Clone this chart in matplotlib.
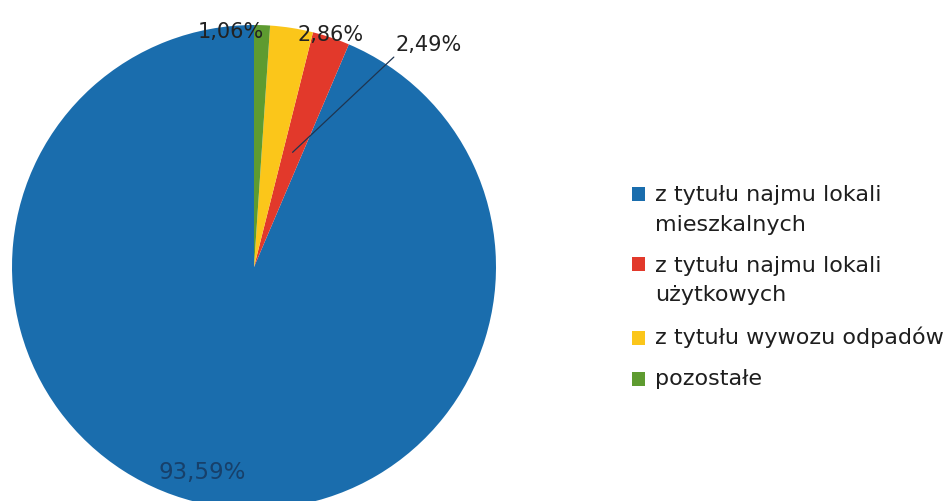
import numpy as np
import matplotlib
matplotlib.use("Agg")
import matplotlib.pyplot as plt

categories = ["z tytułu najmu lokali\nmieszkalnych",
              "z tytułu najmu lokali\nużytkowych",
              "z tytułu wywozu odpadów",
              "pozostałe"]
values = [93.59, 2.49, 2.86, 1.06]
pct_labels = ["93,59%", "2,49%", "2,86%", "1,06%"]
colors = ["#1a6dad", "#e2392b", "#fbc61a", "#5e9b30"]

W, H = 948, 502
fig = plt.figure(figsize=(W / 100, H / 100), dpi=100)
ax = fig.add_axes([0, 0, 1, 1])

wedges, _ = ax.pie(values, colors=colors, startangle=90, counterclock=True,
                   radius=1.0, wedgeprops=dict(linewidth=0))

# pixel placement of pie: centre (254, 268) from top-left, radius 242 px
cx, cy, R = 254, 268, 242
ax.set_aspect("auto")
ax.set_xlim(-cx / R, (W - cx) / R)
ax.set_ylim(-(H - cy) / R, cy / R)
ax.axis("off")

font = "DejaVu Sans"

def mid(w):
    return np.deg2rad((w.theta1 + w.theta2) / 2)

# label settings: (radius of anchor, pixel offset, arrow?, size, colour)
label_cfg = [
    (0.83, (-12, -8), False, 16.5, "#17406a"),
    (0.5, (136, 108), True, 15, "#222222"),
    (1.0, (39, -6), False, 15, "#222222"),
    (1.0, (-31, -6), False, 15, "#222222"),
]
for w, txt, (r, off, arrow, fs, col) in zip(wedges, pct_labels, label_cfg):
    a = mid(w)
    xy = (r * np.cos(a), r * np.sin(a))
    kw = {}
    if arrow:
        kw["arrowprops"] = dict(arrowstyle="-", color="#1f3550", lw=0.9,
                                relpos=(0.02, 0.0), shrinkA=0, shrinkB=0)
    ax.annotate(txt, xy=xy, xytext=off, textcoords="offset pixels",
                ha="center", va="center", fontsize=fs, family=font,
                color=col, **kw)

leg = ax.legend(wedges, categories, loc="upper left",
                bbox_to_anchor=(632 / W, 1 - 185 / H),
                frameon=False, prop=dict(family=font, size=16),
                handlelength=0.6, handleheight=0.6, handletextpad=0.42,
                labelspacing=0.95, borderaxespad=0, borderpad=0)
for t in leg.get_texts():
    t.set_color("#1e1e1e")
    t.set_linespacing(1.6)
# align square with first line for two-line entries
for h, lab in zip(leg.legend_handles, categories):
    if "\n" in lab:
        h.set_y(h.get_y() + 11)
    else:
        h.set_y(h.get_y() - 2)

fig.savefig("out.png", dpi=100, facecolor="white")
